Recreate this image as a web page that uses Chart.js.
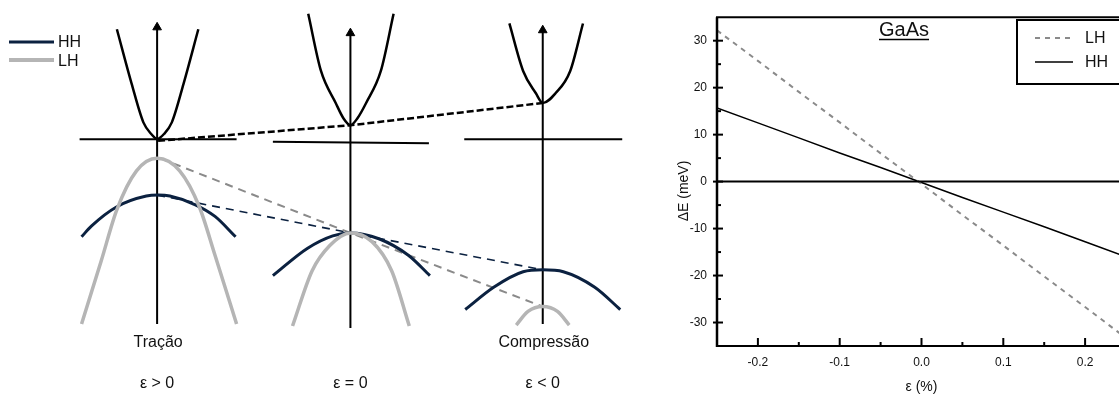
<!DOCTYPE html>
<html>
<head>
<meta charset="utf-8">
<script src="https://cdn.jsdelivr.net/npm/chart.js@4.4.0/dist/chart.umd.min.js"></script>
<style>
html, body { margin: 0; padding: 0; background: #fff; overflow: hidden; width: 1119px; height: 396px; }
#left { position: absolute; left: 0; top: 0; }
#right { position: absolute; left: 640px; top: 0; }
</style>
</head>
<body>
<canvas id="left" width="640" height="396"></canvas>
<canvas id="right" width="490" height="396"></canvas>
<script>
// ---- left: band schematic (arbitrary units) ----
const cbTracao = [[113,24],[128,80],[140,120],[148,132],[154,137],[161,132],[169,120],[181,80],[196,24]];
const hhTracao = [[77,238],[87,227],[113,207],[143,196],[155,195],[167,196],[193,205],[213,217],[234,238]];
const lhTracao = [[77,328],[97,263],[113,210],[133,170],[154,157],[177,170],[197,207],[213,257],[235,328]];

const cbZero = [[308,8],[321,67],[336,100],[344,116],[351,123],[358,116],[367,100],[382,67],[395,8]];
const hhZero = [[272,278],[307,250],[333,237],[351,234],[380,240],[410,257],[432,278]];
const lhZero = [[292,330],[312,273],[330,247],[351,234],[373,243],[393,273],[411,330]];

const cbComp = [[513,18],[527,67],[540,90],[547,100],[560,90],[575,67],[588,18]];
const hhComp = [[468,313],[497,290],[527,274],[547,272],[568,274],[600,290],[626,313]];
const lhComp = [[520,329],[532,315],[547,310],[562,315],[574,329]];

// k axes: x, top, bottom ; band-edge reference lines
const kAxes = [[154,17,328],[351,23,332],[547,20,328]];
const edgeLines = [[[75,137.5],[235,137.5]], [[272,140],[431,141.5]], [[467,137.5],[628,137.5]]];

// dashed links between band extrema
const cbLink = [[155,139],[351,123],[547,100]];
const lhLink = [[157,157],[351,234],[547,310]];
const hhLink = [[154,195],[351,234],[547,272]];

const panelNames = ['Tração', '', 'Compressão'];
const strainLabels = ['ε > 0', 'ε = 0', 'ε < 0'];

// ---- right: GaAs band shift vs strain ----
const strain  = [-0.25, -0.2, -0.15, -0.1, -0.05, 0, 0.05, 0.1, 0.15, 0.2, 0.25];
const lhShift = [32.2, 25.7, 19.1, 12.6, 6.0, -0.5, -7.1, -13.6, -20.2, -26.7, -33.3];
const hhShift = [15.7, 12.5, 9.3, 6.1, 3.0, -0.2, -3.4, -6.5, -9.6, -12.8, -16.0];
const yTicks = [-30, -20, -10, 0, 10, 20, 30];
const yMinor = [-25, -15, -5, 5, 15, 25];
const xTicks = [-0.2, -0.1, 0, 0.1, 0.2];
const xMinor = [-0.15, -0.05, 0.05, 0.15];

const family = '"Liberation Sans", Arial, sans-serif';
Chart.defaults.font.family = family;
Chart.defaults.color = '#000';

const NAVY = '#0b2140';
const LIGHT = '#b5b5b5';
const GREY = '#8a8a8a';

const pts = a => a.map(([x, y]) => ({ x, y }));

function curve(data, color, width, dash, tension) {
    return {
        data: pts(data),
        showLine: true,
        borderColor: color,
        borderWidth: width,
        borderDash: dash || [],
        pointRadius: 0,
        fill: false,
        tension: tension ? 0.4 : 0,
        cubicInterpolationMode: tension ? 'monotone' : 'default'
    };
}

const leftSets = [];
[lhTracao, lhZero, lhComp].forEach(b => leftSets.push(curve(b, LIGHT, 3.5, null, true)));
[hhTracao, hhZero, hhComp].forEach(b => leftSets.push(curve(b, NAVY, 3, null, true)));
[cbTracao, cbZero, cbComp].forEach(b => leftSets.push(curve(b, '#000', 2.5, null, true)));
edgeLines.forEach(l => leftSets.push(curve(l, '#000', 2)));
kAxes.forEach(([x, top, bottom]) => {
    leftSets.push(curve([[x, top + 4], [x, bottom]], '#000', 2));
    leftSets.push({
        data: [{ x: x, y: top + 5 }],
        showLine: false,
        pointStyle: 'triangle',
        pointRadius: 5,
        backgroundColor: '#000',
        borderColor: '#000',
        borderWidth: 1
    });
});
leftSets.push(curve(lhLink, GREY, 2, [8, 6]));
leftSets.push(curve(hhLink, NAVY, 1.6, [8, 6]));
leftSets.push(curve(cbLink, '#000', 2.5, [7, 3]));

const schematicText = {
    id: 'schematicText',
    afterDatasetsDraw(chart) {
        const { ctx, scales: { x, y } } = chart;
        ctx.save();
        ctx.fillStyle = '#111';
        ctx.font = '16px ' + family;
        ctx.textAlign = 'center';
        ctx.textBaseline = 'middle';
        kAxes.forEach((ax, i) => {
            const px = x.getPixelForValue(ax[0]);
            if (panelNames[i]) ctx.fillText(panelNames[i], px + 1, y.getPixelForValue(347));
            ctx.fillText(strainLabels[i], px, y.getPixelForValue(389));
        });

        // legend
        ctx.lineCap = 'butt';
        ctx.strokeStyle = NAVY;
        ctx.lineWidth = 3;
        ctx.beginPath(); ctx.moveTo(9, 42); ctx.lineTo(54, 42); ctx.stroke();
        ctx.strokeStyle = LIGHT;
        ctx.lineWidth = 4;
        ctx.beginPath(); ctx.moveTo(9, 60); ctx.lineTo(54, 60); ctx.stroke();
        ctx.textAlign = 'left';
        ctx.fillText('HH', 58, 43);
        ctx.fillText('LH', 58, 62);
        ctx.restore();
    }
};

new Chart(document.getElementById('left'), {
    type: 'scatter',
    data: { datasets: leftSets },
    options: {
        responsive: false,
        animation: false,
        devicePixelRatio: 1,
        layout: { padding: 0 },
        plugins: { legend: { display: false }, tooltip: { enabled: false } },
        scales: {
            x: { type: 'linear', min: 0, max: 640, display: false },
            y: { type: 'linear', min: 0, max: 396, reverse: true, display: false }
        }
    },
    plugins: [schematicText]
});

// ---- right chart ----
const frame = {
    id: 'frame',
    afterDatasetsDraw(chart) {
        const { ctx, chartArea: a, scales: { x, y } } = chart;
        const line = (x1, y1, x2, y2) => { ctx.beginPath(); ctx.moveTo(x1, y1); ctx.lineTo(x2, y2); ctx.stroke(); };
        ctx.save();
        ctx.strokeStyle = '#000';
        ctx.lineWidth = 2;
        const y0 = y.getPixelForValue(0);
        line(a.left, y0, a.right, y0);
        line(a.left - 1, a.top, a.right, a.top);
        line(a.left - 1, a.bottom, a.right, a.bottom);
        ctx.lineWidth = 2.5;
        line(a.left, a.top, a.left, a.bottom + 1);
        line(a.right, a.top, a.right, a.bottom);
        ctx.lineWidth = 2;
        yTicks.forEach(v => { const p = y.getPixelForValue(v); line(a.left - 4, p, a.left + 6, p); });
        yMinor.forEach(v => { const p = y.getPixelForValue(v); line(a.left, p, a.left + 4, p); });
        xTicks.forEach(v => { const p = x.getPixelForValue(v); line(p, a.bottom, p, a.bottom - 8); });
        xMinor.forEach(v => { const p = x.getPixelForValue(v); line(p, a.bottom, p, a.bottom - 4); });

        // GaAs label
        ctx.fillStyle = '#111';
        ctx.font = '20px ' + family;
        ctx.textAlign = 'left';
        ctx.textBaseline = 'alphabetic';
        ctx.fillText('GaAs', 239, 36);
        const w = ctx.measureText('GaAs').width;
        ctx.lineWidth = 1.5;
        line(239, 39.5, 239 + w, 39.5);

        // legend box
        ctx.fillStyle = '#fff';
        ctx.fillRect(377, 20, 120, 64);
        ctx.lineWidth = 2;
        ctx.strokeRect(377, 20, 120, 64);
        chart.data.datasets.forEach((ds, i) => {
            const ly = 38 + i * 24;
            ctx.strokeStyle = ds.borderColor;
            ctx.lineWidth = ds.borderWidth;
            ctx.setLineDash(ds.borderDash || []);
            line(395, ly, 433, ly);
            ctx.setLineDash([]);
            ctx.fillStyle = '#111';
            ctx.font = '16px ' + family;
            ctx.textBaseline = 'middle';
            ctx.fillText(ds.label, 445, ly + 1);
        });

        // axis titles
        ctx.fillStyle = '#111';
        ctx.font = '14px ' + family;
        ctx.textAlign = 'center';
        ctx.textBaseline = 'middle';
        ctx.fillText('ε (%)', x.getPixelForValue(0), 387);
        ctx.translate(44, 191);
        ctx.rotate(-Math.PI / 2);
        ctx.fillText('ΔE (meV)', 0, 0);
        ctx.restore();
    }
};

new Chart(document.getElementById('right'), {
    type: 'line',
    data: {
        datasets: [
            {
                label: 'LH',
                data: strain.map((v, i) => ({ x: v, y: lhShift[i] })),
                borderColor: GREY,
                borderWidth: 2,
                borderDash: [5, 5],
                pointRadius: 0,
                tension: 0
            },
            {
                label: 'HH',
                data: strain.map((v, i) => ({ x: v, y: hhShift[i] })),
                borderColor: '#000',
                borderWidth: 1.5,
                pointRadius: 0,
                tension: 0
            }
        ]
    },
    options: {
        responsive: false,
        animation: false,
        devicePixelRatio: 1,
        layout: { padding: { top: 16, right: 4, left: 0, bottom: 0 } },
        plugins: { legend: { display: false }, tooltip: { enabled: false } },
        scales: {
            x: {
                type: 'linear',
                min: -0.25,
                max: 0.25,
                grid: { display: false, drawTicks: false },
                border: { display: false },
                afterBuildTicks: s => { s.ticks = xTicks.map(v => ({ value: v })); },
                afterFit: s => { s.height = 50; },
                ticks: {
                    padding: 9,
                    color: '#111',
                    font: { size: 12 },
                    autoSkip: false,
                    maxRotation: 0,
                    callback: v => v.toFixed(1)
                }
            },
            y: {
                type: 'linear',
                min: -35,
                max: 35,
                grid: { display: false, drawTicks: false },
                border: { display: false },
                afterBuildTicks: s => { s.ticks = yTicks.map(v => ({ value: v })); },
                afterFit: s => { s.width = 77; },
                ticks: {
                    padding: 10,
                    color: '#111',
                    font: { size: 12 },
                    autoSkip: false,
                    callback: v => String(v)
                }
            }
        }
    },
    plugins: [frame]
});
</script>
</body>
</html>
